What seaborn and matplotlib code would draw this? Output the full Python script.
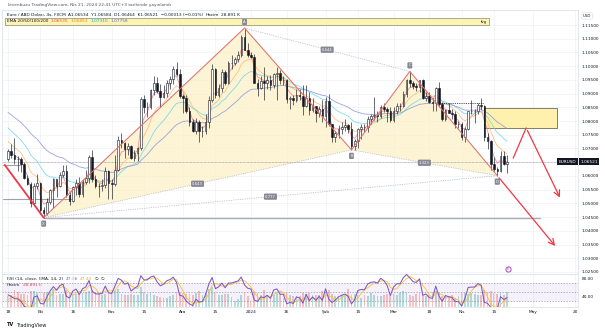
import numpy as np
import pandas as pd
import matplotlib
matplotlib.use("Agg")
import matplotlib.pyplot as plt
import seaborn as sns
from matplotlib.patches import Rectangle, Polygon

sns.set_theme(style="white")
plt.rcParams['font.family'] = ['DejaVu Sans']

# ---------------- data (daily bars) ----------------
start_date, end_date = "2023-09-18", "2024-04-19"
first_open = 1.0660

closes = [
    1.0690, 1.0678, 1.0662, 1.0660, 1.0645, 1.0592, 1.0571, 1.0502, 1.0565, 1.0573,
    1.0477, 1.0466, 1.0506, 1.0549, 1.0588, 1.0564, 1.0605, 1.0619, 1.0529, 1.0510,
    1.0559, 1.0576, 1.0535, 1.0578, 1.0594, 1.0670, 1.0590, 1.0565, 1.0563, 1.0566,
    1.0617, 1.0575,
    1.0570, 1.0620, 1.0730, 1.0720, 1.0698, 1.0710, 1.0665, 1.0684, 1.0700, 1.0880,
    1.0850, 1.0853, 1.0913, 1.0940, 1.0910, 1.0887, 1.0902, 1.0940, 1.0955, 1.0990,
    1.0970, 1.0890,
    1.0883, 1.0835, 1.0795, 1.0765, 1.0795, 1.0762, 1.0764, 1.0795, 1.0875, 1.0990,
    1.0895, 1.0920, 1.0980, 1.0940, 1.1010, 1.1012, 1.1025, 1.1040, 1.1105, 1.1060,
    1.1040,
    1.1035, 1.0940, 1.0920, 1.0945, 1.0940, 1.0950, 1.0930, 1.0970, 1.0975, 1.0950,
    1.0950, 1.0880, 1.0885, 1.0875, 1.0895, 1.0890, 1.0855, 1.0885, 1.0840, 1.0855,
    1.0830, 1.0845, 1.0818,
    1.0873, 1.0788, 1.0742, 1.0755, 1.0772, 1.0780, 1.0785, 1.0772, 1.0710, 1.0727,
    1.0772, 1.0778, 1.0777, 1.0808, 1.0820, 1.0823, 1.0820, 1.0850, 1.0845, 1.0835,
    1.0805,
    1.0838, 1.0855, 1.0855, 1.0900, 1.0948, 1.0938, 1.0927, 1.0925, 1.0950, 1.0885,
    1.0890, 1.0870, 1.0865, 1.0920, 1.0862, 1.0808, 1.0840, 1.0830, 1.0825, 1.0790,
    1.0790,
    1.0742, 1.0770, 1.0835, 1.0838, 1.0838, 1.0860, 1.0855, 1.0742, 1.0728, 1.0642,
    1.0625, 1.0617, 1.0672, 1.0643, 1.0652,
]
highs = [
    1.0698, 1.0718, 1.0737, 1.0672, 1.0670, 1.0650, 1.0605, 1.0577, 1.0575, 1.0608,
    1.0578, 1.0488, 1.0520, 1.0552, 1.0592, 1.0568, 1.0615, 1.0639, 1.0640, 1.0540,
    1.0564, 1.0590, 1.0595, 1.0587, 1.0621, 1.0675, 1.0695, 1.0603, 1.0575, 1.0590,
    1.0634, 1.0621,
    1.0588, 1.0676, 1.0747, 1.0756, 1.0725, 1.0720, 1.0712, 1.0695, 1.0705, 1.0888,
    1.0895, 1.0869, 1.0918, 1.0965, 1.0960, 1.0935, 1.0930, 1.0950, 1.0965, 1.1000,
    1.1017, 1.0990,
    1.0900, 1.0895, 1.0850, 1.0806, 1.0810, 1.0805, 1.0783, 1.0827, 1.0893, 1.1009,
    1.0995, 1.0935, 1.0988, 1.0985, 1.1020, 1.1040, 1.1035, 1.1057, 1.1115, 1.1139,
    1.1085,
    1.1050, 1.1045, 1.0955, 1.0965, 1.0998, 1.0964, 1.0968, 1.0975, 1.0998, 1.0987,
    1.0965, 1.0955, 1.0890, 1.0895, 1.0917, 1.0915, 1.0932, 1.0932, 1.0905, 1.0885,
    1.0855, 1.0855, 1.0875,
    1.0888, 1.0898, 1.0790, 1.0765, 1.0785, 1.0795, 1.0806, 1.0790, 1.0796, 1.0735,
    1.0775, 1.0791, 1.0790, 1.0818, 1.0825, 1.0888, 1.0837, 1.0857, 1.0865, 1.0850,
    1.0850,
    1.0850, 1.0866, 1.0866, 1.0910, 1.0952, 1.0981, 1.0945, 1.0938, 1.0950, 1.0954,
    1.0907, 1.0905, 1.0884, 1.0925, 1.0942, 1.0868, 1.0843, 1.0866, 1.0845, 1.0835,
    1.0800,
    1.0796, 1.0780, 1.0838, 1.0877, 1.0843, 1.0865, 1.0885, 1.0860, 1.0755, 1.0730,
    1.0669, 1.0633, 1.0690, 1.0691, 1.0676,
]
lows = [
    1.0656, 1.0665, 1.0645, 1.0617, 1.0615, 1.0587, 1.0568, 1.0488, 1.0495, 1.0552,
    1.0463, 1.0448, 1.0457, 1.0496, 1.0483, 1.0522, 1.0558, 1.0596, 1.0525, 1.0495,
    1.0505, 1.0532, 1.0523, 1.0525, 1.0570, 1.0575, 1.0577, 1.0555, 1.0524, 1.0545,
    1.0555, 1.0516,
    1.0517, 1.0565, 1.0617, 1.0701, 1.0665, 1.0675, 1.0660, 1.0655, 1.0656, 1.0694,
    1.0828, 1.0813, 1.0845, 1.0896, 1.0903, 1.0852, 1.0885, 1.0888, 1.0917, 1.0936,
    1.0963, 1.0885,
    1.0828, 1.0828, 1.0781, 1.0761, 1.0752, 1.0723, 1.0743, 1.0753, 1.0773, 1.0871,
    1.0883, 1.0888, 1.0907, 1.0930, 1.0935, 1.0990, 1.1005, 1.1015, 1.1035, 1.1058,
    1.1035,
    1.1030, 1.0938, 1.0893, 1.0916, 1.0877, 1.0915, 1.0912, 1.0922, 1.0875, 1.0935,
    1.0930, 1.0866, 1.0844, 1.0860, 1.0868, 1.0875, 1.0822, 1.0850, 1.0821, 1.0832,
    1.0796, 1.0813, 1.0795,
    1.0779, 1.0781, 1.0723, 1.0722, 1.0737, 1.0752, 1.0765, 1.0755, 1.0695, 1.0695,
    1.0702, 1.0735, 1.0761, 1.0760, 1.0790, 1.0803, 1.0795, 1.0811, 1.0832, 1.0797,
    1.0796,
    1.0796, 1.0826, 1.0835, 1.0851, 1.0888, 1.0925, 1.0916, 1.0908, 1.0905, 1.0880,
    1.0874, 1.0864, 1.0836, 1.0838, 1.0852, 1.0802, 1.0802, 1.0828, 1.0808, 1.0775,
    1.0773,
    1.0732, 1.0724, 1.0766, 1.0826, 1.0792, 1.0825, 1.0845, 1.0728, 1.0698, 1.0622,
    1.0618, 1.0601, 1.0615, 1.0640, 1.0611,
]
volumes_k = [
    118, 126, 171, 158, 139, 131, 127, 166, 162, 149,
    152, 141, 156, 149, 188, 128, 138, 133, 172, 151, 131, 137, 146, 142, 151, 163,
    177, 152, 141, 129, 136, 157,
    143, 162, 183, 131, 126, 121, 132, 124, 121, 212, 152, 131, 141, 122, 114, 108,
    96, 91, 119, 126, 151, 143,
    146, 136, 131, 124, 149, 161, 129, 141, 186, 203, 152, 121, 124, 131, 139, 108,
    61, 88, 129, 152, 109,
    52, 163, 141, 129, 171, 121, 114, 126, 146, 131, 92, 142, 121, 116, 119, 114,
    141, 131, 146, 121, 126, 129, 161,
    153, 172, 131, 119, 112, 121, 116, 182, 121, 133, 122, 93, 124, 116, 142, 121,
    116, 111, 122, 139, 128,
    131, 121, 142, 163, 158, 126, 119, 137, 149, 128, 116, 121, 151, 162, 139, 118,
    113, 117, 124, 96, 112,
    143, 146, 139, 149, 132, 121, 128, 181, 156, 168, 141, 137, 146, 129, 152,
]
# closes of the days before the visible range (indicator warm-up only)
warmup_closes = [1.0818, 1.0878, 1.0918, 1.0843, 1.0774, 1.0796, 1.0720, 1.0725,
                 1.0697, 1.0700, 1.0750, 1.0752, 1.0732, 1.0643, 1.0659]

# EMA 20/50/100/200 on 4h bars, starting levels read at the left edge
ema_lengths = [20, 50, 100, 200]
ema_seeds = [1.0690, 1.0735, 1.0786, 1.0840]
ema_values_txt = ["1.06535", "1.06853", "1.07310", "1.07758"]
bars_per_day = 6
rsi_len = 5
rsi_sma_len = 3

# date axis
tick_dates = ["2023-09-18", "2023-10-02", "2023-10-16", "2023-11-01", "2023-11-15",
              "2023-12-01", "2023-12-15", "2024-01-01", "2024-01-16", "2024-02-01",
              "2024-02-15", "2024-03-01", "2024-03-18", "2024-04-01", "2024-04-15",
              "2024-05-01", "2024-05-20"]
tick_labels = ["18", "Eki", "16", "Kas", "15", "Ara", "15", "2024", "16", "Şub",
               "15", "Mar", "18", "Nis", "15", "May", "20"]

# XABCD harmonic pattern
pattern_names = ["X", "A", "B", "C", "D"]
pattern_dates = ["2023-10-03", "2023-12-28", "2024-02-13", "2024-03-08", "2024-04-16"]
pattern_prices = [1.0448, 1.1139, 1.0695, 1.0981, 1.0601]
ratio_pairs = [("X", "B"), ("A", "C"), ("B", "D"), ("X", "D")]
ratio_texts = ["0.643", "0.644", "1.323", "0.777"]

# other drawings (bar index, price)
top_zone = (-1.0, 148.5, 1.1150, 1.1174)          # left, right, bottom, top
right_zone = (146.8, 169.4, 1.07746, 1.08475)
proj_idx = [155.9, 159.9, 170.7]
proj_price = [1.0665, 1.0775, 1.0512]
cd_arrow_end = (169.4, 1.0337)
lead_line = ((-1.0, 1.0640), (11.0, 1.0448))
x_level_end = 164.2
left_levels = [(1.0640, 3.7), (1.0516, 19.8)]
dotted_level = (133.3, 146.6, 1.0866)
event_mark = (154.3, 1.0261)
last_price = 1.06521

# ---------------- frame ----------------
dates = pd.bdate_range(start_date, end_date)
assert len(dates) == len(closes) == len(highs) == len(lows) == len(volumes_k)
df = pd.DataFrame({"date": dates, "close": closes, "high": highs, "low": lows,
                   "vol": volumes_k})
df["open"] = df["close"].shift(1).fillna(first_open)
df["i"] = np.arange(len(df))
axis_days = pd.bdate_range(start_date, "2024-05-31")
tick_pos = [axis_days.get_loc(pd.Timestamp(d)) for d in tick_dates]
pidx = {n: dates.get_loc(pd.Timestamp(d)) for n, d in zip(pattern_names, pattern_dates)}
ppr = dict(zip(pattern_names, pattern_prices))

# EMAs
emas = []
for L, seed in zip(ema_lengths, ema_seeds):
    s = pd.concat([pd.Series([seed]), df["close"]], ignore_index=True)
    e = s.ewm(span=L / bars_per_day, adjust=False).mean().iloc[1:].to_numpy()
    emas.append(e)

# RSI
allc = pd.Series(warmup_closes + closes)
d = allc.diff().fillna(0)
ag = d.clip(lower=0).ewm(alpha=1 / rsi_len, adjust=False).mean()
al = (-d.clip(upper=0)).ewm(alpha=1 / rsi_len, adjust=False).mean()
rsi_all = 100 - 100 / (1 + ag / al)
rsi_sma_all = rsi_all.rolling(rsi_sma_len, min_periods=1).mean()
nw = len(warmup_closes)
rsi = rsi_all.iloc[nw:].to_numpy()
rsi_sma = rsi_sma_all.iloc[nw:].to_numpy()

# ---------------- figure ----------------
FW, FH = 605, 332
fig = plt.figure(figsize=(FW / 100, FH / 100), dpi=100)
fig.patch.set_facecolor("white")


def frac(l, t, r, b):
    return [l / FW, 1 - b / FH, (r - l) / FW, (b - t) / FH]


ax = fig.add_axes(frac(2, 10, 578, 274))
axr = fig.add_axes(frac(2, 274, 578, 307), sharex=ax)
FS = 3.1
TXT = "#131722"
GRID = "#eef1f7"
EDGE = "#e0e3eb"

ax.set_xlim(-1.85, 175.9)
ax.set_ylim(1.02426, 1.12047)
price_ticks = np.round(np.arange(1.025, 1.11501, 0.005), 3)
ax.set_yticks(price_ticks)
ax.set_yticklabels([f"{v:.5f}" for v in price_ticks])
ax.yaxis.tick_right()
ax.tick_params(axis="y", length=0, pad=2.6, labelsize=FS, labelcolor=TXT)
ax.tick_params(axis="x", length=0, labelbottom=False)
for v in price_ticks:
    ax.axhline(v, color=GRID, lw=0.5, zorder=0)
for p in tick_pos:
    ax.axvline(p, color=GRID, lw=0.5, zorder=0)
    axr.axvline(p, color=GRID, lw=0.5, zorder=0)
for a in (ax, axr):
    for sp in a.spines.values():
        sp.set_color(EDGE)
        sp.set_linewidth(0.6)

# pattern fills
tri1 = [(pidx[n], ppr[n]) for n in ("X", "A", "B")]
tri2 = [(pidx[n], ppr[n]) for n in ("B", "C", "D")]
for tri in (tri1, tri2):
    ax.add_patch(Polygon(tri, closed=True, fc="#fbf0c4", ec="none", alpha=0.7, zorder=1))

# zones
l, r, b, t = top_zone
ax.add_patch(Rectangle((l, b), r - l, t - b, fc="#fcf3b6", ec="#8f8b66", lw=0.5, zorder=1))
ax.text(r - 0.6, (b + t) / 2, "fvg", fontsize=FS - 0.3, color=TXT, ha="right", va="center", zorder=6)
l, r, b, t = right_zone
ax.add_patch(Rectangle((l, b), r - l, t - b, fc="#fdf1ad", ec="#6e6c52", lw=0.6, zorder=1))

# last price line
ax.axhline(last_price, color="#8a8d96", lw=0.5, ls=(0, (1, 1)), zorder=2)

# EMAs
ema_colors = ["#f57f86", "#ffb870", "#6fd6e3", "#8a95d6"]
for e, c in zip(emas, ema_colors):
    sns.lineplot(x=df["i"], y=e, ax=ax, color=c, lw=0.6, alpha=0.85, zorder=2)

# candles
up = df["close"] >= df["open"]
ax.vlines(df["i"], df["low"], df["high"], color=TXT, lw=0.45, zorder=3)
ax.bar(df["i"][up], (df["close"] - df["open"])[up], bottom=df["open"][up], width=0.5,
       color="white", edgecolor=TXT, linewidth=0.4, zorder=4)
ax.bar(df["i"][~up], (df["close"] - df["open"])[~up], bottom=df["open"][~up], width=0.5,
       color=TXT, edgecolor=TXT, linewidth=0.4, zorder=4)

# pattern legs
leg_x = [pidx[n] for n in pattern_names]
leg_y = [ppr[n] for n in pattern_names]
ax.plot(leg_x, leg_y, color="#e07070", lw=0.75, zorder=5)
for (a1, a2), txt in zip(ratio_pairs, ratio_texts):
    ax.plot([pidx[a1], pidx[a2]], [ppr[a1], ppr[a2]], color="#b9bcc4", lw=0.55,
            ls=(0, (1.5, 1.5)), zorder=5)
    mx, my = (pidx[a1] + pidx[a2]) / 2, (ppr[a1] + ppr[a2]) / 2
    ax.text(mx, my, txt, fontsize=FS - 0.4, color="white", ha="center", va="center", zorder=7,
            bbox=dict(boxstyle="round,pad=0.3", fc="#868993", ec="none"))
offsets = {"X": -6, "A": 6, "B": -6, "C": 6, "D": -6}
for n in pattern_names:
    ax.annotate(n, (pidx[n], ppr[n]), xytext=(0, offsets[n] * 0.72), textcoords="offset points",
                fontsize=FS - 0.4, color="white", ha="center", va="center", zorder=7,
                bbox=dict(boxstyle="round,pad=0.3", fc="#868993", ec="none"))

# other lines
RED = "#f23645"
(lx0, ly0), (lx1, ly1) = lead_line
ax.plot([lx0, lx1], [ly0, ly1], color=RED, lw=1.3, zorder=5)
ax.plot([pidx["X"], x_level_end], [ppr["X"], ppr["X"]], color="#a9acb4", lw=1.0, zorder=2)
for lv, xe in left_levels:
    ax.plot([-1.5, xe], [lv, lv], color="#9ea1aa", lw=0.8, zorder=2)
ax.plot([dotted_level[0], dotted_level[1]], [dotted_level[2]] * 2, color=TXT, lw=0.6,
        ls=(0, (1, 1.2)), zorder=5)
ax.plot(proj_idx[:2], proj_price[:2], color=RED, lw=0.9, zorder=5)
ax.annotate("", xy=(proj_idx[2], proj_price[2]), xytext=(proj_idx[1], proj_price[1]),
            arrowprops=dict(arrowstyle="->,head_length=0.35,head_width=0.18", color=RED, lw=0.9),
            zorder=5)
ax.annotate("", xy=cd_arrow_end, xytext=(pidx["D"], ppr["D"]),
            arrowprops=dict(arrowstyle="->,head_length=0.35,head_width=0.18", color=RED, lw=0.9),
            zorder=5)
ax.scatter([event_mark[0]], [event_mark[1]], s=14, facecolor="white", edgecolor="#ab47bc",
           linewidth=0.7, zorder=6)
ax.text(event_mark[0], event_mark[1], "E", fontsize=2.4, color="#ab47bc", ha="center",
        va="center", zorder=7)

# last price tags
yt = ax.get_yaxis_transform()
ax.text(0.997, last_price, "EURUSD", transform=yt, fontsize=FS, color="white", ha="right",
        va="center", zorder=8, clip_on=False,
        bbox=dict(boxstyle="square,pad=0.35", fc="#131722", ec="none"))
ax.text(1.004, last_price, f"{last_price:.5f}", transform=yt, fontsize=FS, color="white",
        ha="left", va="center", zorder=8, clip_on=False,
        bbox=dict(boxstyle="square,pad=0.35", fc="#131722", ec="none"))
ax.set_xlabel("")
ax.set_ylabel("")

# ---------------- RSI panel ----------------
axr.set_ylim(15.6, 88.9)
axv = axr.twinx()
vcol = np.where(up, "#26a69a", "#ef5350")
axv.bar(df["i"], df["vol"], width=0.55, color=vcol, alpha=0.35, linewidth=0)
axv.set_ylim(0, max(volumes_k) / 0.62)
axv.set_yticks([])
for sp in axv.spines.values():
    sp.set_visible(False)
axr.set_zorder(axv.get_zorder() + 1)
axr.patch.set_visible(False)
axr.axhspan(30, 70, color="#7e57c2", alpha=0.08, lw=0, zorder=0)
for lv in (70, 50, 30):
    axr.axhline(lv, color="#9598a1", lw=0.5, ls=(0, (2, 2)), zorder=1)
sns.lineplot(x=df["i"], y=rsi_sma, ax=axr, color="#fbc02d", lw=0.6, zorder=2)
sns.lineplot(x=df["i"], y=rsi, ax=axr, color="#7e57c2", lw=0.75, zorder=3)
axr.set_yticks([40, 80])
axr.set_yticklabels(["40.00", "80.00"])
axr.yaxis.tick_right()
axr.tick_params(axis="y", length=0, pad=2.6, labelsize=FS, labelcolor=TXT)
axr.set_xticks(tick_pos)
axr.set_xticklabels(tick_labels)
axr.tick_params(axis="x", length=0, pad=2.2, labelsize=FS, labelcolor=TXT)
axr.set_xlabel("")
axr.set_ylabel("")
ax.set_xlim(-1.85, 175.9)

# ---------------- overlay texts (pixel coords) ----------------
ov = fig.add_axes([0, 0, 1, 1])
ov.set_xlim(0, FW)
ov.set_ylim(FH, 0)
ov.set_axis_off()


def chain(x, y, parts, size=FS, gap=1.6):
    t = ov.text(x, y, parts[0][0], color=parts[0][1], fontsize=size, ha="left", va="center",
                fontweight=parts[0][2] if len(parts[0]) > 2 else "normal")
    for p in parts[1:]:
        t = ov.annotate(p[0], xy=(1, 0.5), xycoords=t, xytext=(gap, 0),
                        textcoords="offset points", color=p[1], fontsize=size,
                        ha="left", va="center",
                        fontweight=p[2] if len(p) > 2 else "normal")
    return t


chain(8, 5, [("levenbuzu TradingView.com, Nis 21, 2024 22:41 UTC+3 tarihinde yayınlandı", "#50535e")])
chain(7, 15, [("Euro / ABD Doları, 4s, FXCM", TXT),
              ("A1.06534  Y1.06584  D1.06464  K1.06521  −0.00013 (−0.01%)", TXT),
              ("Hacim", TXT), ("28.891 K", TXT)])
chain(7, 21.5, [("EMA 20/50/100/200", TXT)] +
      [(v, c) for v, c in zip(ema_values_txt, ["#f4511e", "#fb8c00", "#00acc1", "#5c6bc0"])])
chain(7, 279, [("RSI (14, close, SMA, 14, 2)", TXT), ("47.36", "#7e57c2"),
               ("47.40", "#f9a825"), ("∅", TXT), ("∅", TXT)])
chain(7, 285, [("Hacim", TXT), ("28.891 K", "#f23645")])
ov.text(583, 16, "USD", fontsize=FS - 0.3, color=TXT, ha="left", va="center",
        bbox=dict(boxstyle="round,pad=0.3", fc="white", ec=EDGE, lw=0.5))
chain(7, 325, [("TV", TXT, "bold"), ("TradingView", TXT)], size=3.6, gap=1.2)

fig.savefig("out.png", dpi=100, facecolor="white")
